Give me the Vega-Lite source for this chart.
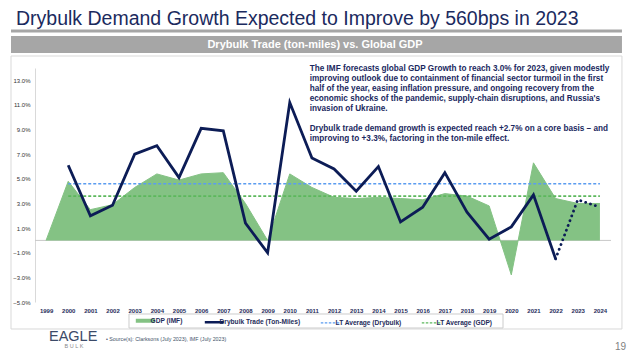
{
  "$schema": "https://vega.github.io/schema/vega-lite/v6.json",
  "width": 576,
  "height": 234,
  "autosize": {"type": "none"},
  "padding": {"left": 35, "top": 68, "right": 29, "bottom": 50},
  "background": "#ffffff",
  "config": {"view": {"stroke": null}, "font": "Liberation Sans", "axis": {"labelOverlap": false, "labelFlush": false}},
  "datasets": {
    "gdp": [
      {"year": 1999, "gdp": 0}, {"year": 2000, "gdp": 4.8}, {"year": 2001, "gdp": 2.5},
      {"year": 2002, "gdp": 2.9}, {"year": 2003, "gdp": 4.3}, {"year": 2004, "gdp": 5.4},
      {"year": 2005, "gdp": 4.9}, {"year": 2006, "gdp": 5.4}, {"year": 2007, "gdp": 5.5},
      {"year": 2008, "gdp": 3.0}, {"year": 2009, "gdp": 0.0}, {"year": 2010, "gdp": 5.4},
      {"year": 2011, "gdp": 4.3}, {"year": 2012, "gdp": 3.5}, {"year": 2013, "gdp": 3.4},
      {"year": 2014, "gdp": 3.5}, {"year": 2015, "gdp": 3.4}, {"year": 2016, "gdp": 3.3},
      {"year": 2017, "gdp": 3.8}, {"year": 2018, "gdp": 3.6}, {"year": 2019, "gdp": 2.8},
      {"year": 2020, "gdp": -2.8}, {"year": 2021, "gdp": 6.3}, {"year": 2022, "gdp": 3.4},
      {"year": 2023, "gdp": 3.0}, {"year": 2024, "gdp": 3.0}
    ],
    "dry": [
      {"year": 2000, "trade": 6.1}, {"year": 2001, "trade": 2.0}, {"year": 2002, "trade": 2.85},
      {"year": 2003, "trade": 7.0}, {"year": 2004, "trade": 7.7}, {"year": 2005, "trade": 5.1},
      {"year": 2006, "trade": 9.1}, {"year": 2007, "trade": 8.9}, {"year": 2008, "trade": 1.4},
      {"year": 2009, "trade": -1.0}, {"year": 2010, "trade": 11.2}, {"year": 2011, "trade": 6.7},
      {"year": 2012, "trade": 5.8}, {"year": 2013, "trade": 4.0}, {"year": 2014, "trade": 6.0},
      {"year": 2015, "trade": 1.5}, {"year": 2016, "trade": 2.7}, {"year": 2017, "trade": 5.5},
      {"year": 2018, "trade": 2.3}, {"year": 2019, "trade": 0.1}, {"year": 2020, "trade": 1.1},
      {"year": 2021, "trade": 3.7}, {"year": 2022, "trade": -1.5}
    ],
    "fc": [
      {"year": 2022, "trade": -1.5}, {"year": 2023, "trade": 3.3}, {"year": 2024, "trade": 2.7}
    ],
    "avg": [
      {"series": "LT Average (Drybulk)", "value": 4.6},
      {"series": "LT Average (GDP)", "value": 3.6}
    ]
  },
  "layer": [
    {
      "data": {"values": [{}]},
      "mark": {"type": "rect", "fill": null, "stroke": "#d9d9d9", "strokeWidth": 1},
      "encoding": {
        "x": {"datum": 1997.417, "type": "quantitative", "scale": {"domain": [1998.5, 2024.5], "nice": false, "zero": false}, "title": null,
          "axis": {"values": [1999,2000,2001,2002,2003,2004,2005,2006,2007,2008,2009,2010,2011,2012,2013,2014,2015,2016,2017,2018,2019,2020,2021,2022,2023,2024], "tickCount": 40, "format": "d", "labelOverlap": false, "domain": false, "ticks": false, "grid": false, "labelFontSize": 6, "labelFontWeight": "bold", "labelColor": "#1f2d5a", "labelPadding": 5, "labelFont": "Liberation Sans", "title": null}},
        "x2": {"datum": 2024.995},
        "y": {"datum": 14.974, "type": "quantitative", "scale": {"domain": [-5, 14], "nice": false, "zero": false}, "title": null,
          "axis": {"values": [-5,-3,-1,1,3,5,7,9,11,13], "tickCount": 30, "labelExpr": "format(datum.value, '.1f') + '%'", "labelOverlap": false, "domain": true, "domainColor": "#d9d9d9", "ticks": false, "grid": false, "labelFontSize": 6, "labelColor": "#333333", "labelPadding": 5, "labelFont": "Liberation Sans", "title": null}},
        "y2": {"datum": -7.192}
      }
    },
    {
      "data": {"values": [{}]},
      "mark": {"type": "rect", "fill": "#ffffff", "stroke": "#cccccc", "strokeWidth": 1},
      "encoding": {
        "x": {"datum": 2002.743, "type": "quantitative"},
        "x2": {"datum": 2019.625},
        "y": {"datum": -5.974, "type": "quantitative"},
        "y2": {"datum": -7.111}
      }
    },
    {
      "data": {"values": [{}]},
      "mark": {"type": "rect", "fill": "#a6a6a6"},
      "encoding": {
        "x": {"datum": 1997.417, "type": "quantitative"},
        "x2": {"datum": 2024.995},
        "y": {"datum": 16.598, "type": "quantitative"},
        "y2": {"datum": 15.218}
      }
    },
    {
      "data": {"values": [{}]},
      "mark": {"type": "rule", "stroke": "#a6a6a6", "strokeWidth": 3},
      "encoding": {
        "x": {"datum": 1997.417, "type": "quantitative"},
        "x2": {"datum": 2024.995},
        "y": {"datum": 17.0, "type": "quantitative"}
      }
    },
    {
      "data": {"values": [{}]},
      "mark": {"type": "rule", "stroke": "#c8c8c8", "strokeWidth": 1},
      "encoding": {
        "y": {"datum": 0, "type": "quantitative"}
      }
    },
    {
      "data": {"name": "gdp"},
      "mark": {"type": "area", "color": "#84c284", "interpolate": "linear"},
      "encoding": {
        "x": {"field": "year", "type": "quantitative", "title": null},
        "y": {"field": "gdp", "type": "quantitative", "title": null}
      }
    },
    {
      "data": {"name": "gdp"},
      "mark": {"type": "line", "strokeWidth": 1},
      "encoding": {
        "x": {"field": "year", "type": "quantitative", "title": null},
        "y": {"field": "gdp", "type": "quantitative", "title": null},
        "color": {"datum": "GDP (IMF)", "type": "nominal",
          "scale": {"domain": ["GDP (IMF)", "Drybulk Trade (Ton-Miles)", "LT Average (Drybulk)", "LT Average (GDP)"], "range": ["#84c284", "#0c1c56", "#5b9cf0", "#5cb85c"]},
          "legend": {"orient": "none", "legendX": 94, "legendY": 246, "direction": "horizontal", "title": null,
            "symbolType": "stroke", "symbolSize": 361, "symbolOffset": 10, "labelFontSize": 6.6, "labelFontWeight": "bold", "labelColor": "#1f2d5a",
            "labelFont": "Liberation Sans", "padding": 3, "columnPadding": 16, "labelOffset": 2, "labelLimit": 300,
            "encode": {
              "symbols": {"update": {
                "strokeWidth": {"signal": "datum.value == 'GDP (IMF)' ? 4 : datum.value == 'Drybulk Trade (Ton-Miles)' ? 2.5 : 1.2"},
                "strokeDash": {"signal": "(datum.value == 'LT Average (Drybulk)' || datum.value == 'LT Average (GDP)') ? [2.5, 1.5] : [1, 0]"}
              }}}}
        }
      }
    },
    {
      "data": {"name": "avg"},
      "transform": [{"filter": "datum.series == 'LT Average (Drybulk)'"}],
      "mark": {"type": "rule", "strokeWidth": 1.3, "strokeDash": [3, 2]},
      "encoding": {
        "x": {"datum": 2000, "type": "quantitative"},
        "x2": {"datum": 2024},
        "y": {"field": "value", "type": "quantitative", "title": null},
        "color": {"datum": "LT Average (Drybulk)", "type": "nominal"}
      }
    },
    {
      "data": {"name": "avg"},
      "transform": [{"filter": "datum.series == 'LT Average (GDP)'"}],
      "mark": {"type": "rule", "strokeWidth": 1.6, "strokeDash": [3, 2]},
      "encoding": {
        "x": {"datum": 2000, "type": "quantitative"},
        "x2": {"datum": 2024},
        "y": {"field": "value", "type": "quantitative", "title": null},
        "color": {"datum": "LT Average (GDP)", "type": "nominal"}
      }
    },
    {
      "data": {"name": "dry"},
      "mark": {"type": "line", "strokeWidth": 2.8},
      "encoding": {
        "x": {"field": "year", "type": "quantitative", "title": null},
        "y": {"field": "trade", "type": "quantitative", "title": null},
        "color": {"datum": "Drybulk Trade (Ton-Miles)", "type": "nominal"}
      }
    },
    {
      "data": {"name": "fc"},
      "mark": {"type": "line", "strokeWidth": 2.8, "strokeDash": [0.1, 5], "strokeCap": "round", "color": "#0c1c56"},
      "encoding": {
        "x": {"field": "year", "type": "quantitative", "title": null},
        "y": {"field": "trade", "type": "quantitative", "title": null}
      }
    },
    {
      "data": {"values": [{"t": "Drybulk Demand Growth Expected to Improve by 560bps in 2023"}]},
      "mark": {"type": "text", "align": "left", "baseline": "alphabetic", "fontSize": 19.5, "color": "#1b2a5e", "font": "Liberation Sans"},
      "encoding": {
        "x": {"datum": 1997.642, "type": "quantitative"},
        "y": {"datum": 17.49, "type": "quantitative"},
        "text": {"field": "t"}
      }
    },
    {
      "data": {"values": [{"t": "Drybulk Trade (ton-miles) vs. Global GDP"}]},
      "mark": {"type": "text", "align": "center", "baseline": "middle", "fontSize": 11, "fontWeight": "bold", "color": "#ffffff", "font": "Liberation Sans"},
      "encoding": {
        "x": {"datum": 2011.139, "type": "quantitative"},
        "y": {"datum": 15.908, "type": "quantitative"},
        "text": {"field": "t"}
      }
    },
    {
      "data": {"values": [{"t": "The IMF forecasts global GDP Growth to reach 3.0% for 2023, given modestly\nimproving outlook due to containment of financial sector turmoil in the first\nhalf of the year, easing inflation pressure, and ongoing recovery from the\neconomic shocks of the pandemic, supply-chain disruptions, and Russia's\ninvasion of Ukraine."}]},
      "mark": {"type": "text", "align": "left", "baseline": "alphabetic", "fontSize": 8.2, "fontWeight": "bold", "color": "#1a2860", "font": "Liberation Sans", "lineBreak": "\n", "lineHeight": 10},
      "encoding": {
        "x": {"datum": 2010.9, "type": "quantitative"},
        "y": {"datum": 13.77, "type": "quantitative"},
        "text": {"field": "t"}
      }
    },
    {
      "data": {"values": [{"t": "Drybulk trade demand growth is expected reach +2.7% on a core basis – and\nimproving to +3.3%, factoring in the ton-mile effect."}]},
      "mark": {"type": "text", "align": "left", "baseline": "alphabetic", "fontSize": 8.2, "fontWeight": "bold", "color": "#1a2860", "font": "Liberation Sans", "lineBreak": "\n", "lineHeight": 10},
      "encoding": {
        "x": {"datum": 2010.9, "type": "quantitative"},
        "y": {"datum": 8.885, "type": "quantitative"},
        "text": {"field": "t"}
      }
    },
    {
      "data": {"values": [{"t": "•  Source(s): Clarksons (July 2023), IMF (July 2023)"}]},
      "mark": {"type": "text", "align": "left", "baseline": "middle", "fontSize": 5.3, "color": "#44546a", "font": "Liberation Sans"},
      "encoding": {
        "x": {"datum": 2001.705, "type": "quantitative"},
        "y": {"datum": -8.004, "type": "quantitative"},
        "text": {"field": "t"}
      }
    },
    {
      "data": {"values": [{"t": "19"}]},
      "mark": {"type": "text", "align": "right", "baseline": "alphabetic", "fontSize": 10, "color": "#7f7f7f", "font": "Liberation Sans"},
      "encoding": {
        "x": {"datum": 2025.18, "type": "quantitative"},
        "y": {"datum": -8.86, "type": "quantitative"},
        "text": {"field": "t"}
      }
    },
    {
      "data": {"values": [{"t": "EAGLE"}]},
      "mark": {"type": "text", "align": "left", "baseline": "alphabetic", "fontSize": 14.5, "color": "#3c4a68", "font": "Liberation Sans"},
      "encoding": {
        "x": {"datum": 1999.132, "type": "quantitative"},
        "y": {"datum": -8.166, "type": "quantitative"},
        "text": {"field": "t"}
      }
    },
    {
      "data": {"values": [{"t": "B       U       L       K"}]},
      "mark": {"type": "text", "align": "center", "baseline": "middle", "fontSize": 5.5, "color": "#8a8a8a", "font": "Liberation Sans"},
      "encoding": {
        "x": {"datum": 2000.26, "type": "quantitative"},
        "y": {"datum": -8.57, "type": "quantitative"},
        "text": {"field": "t"}
      }
    }
  ]
}
